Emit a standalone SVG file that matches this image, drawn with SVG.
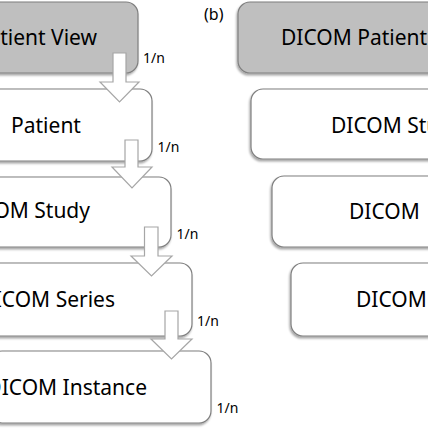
<svg xmlns="http://www.w3.org/2000/svg" width="428" height="428" viewBox="0 0 428 428">
<defs>
<filter id="sh" x="-10%" y="-10%" width="120%" height="130%">
<feDropShadow dx="-1" dy="2" stdDeviation="1" flood-color="#000" flood-opacity="0.35"/>
</filter>
</defs>
<style>
.box{fill:#fff;stroke:#7f7f7f;stroke-width:1.2;filter:url(#sh)}
.gray{fill:#bfbfbf}
.t{font-family:"Noto Sans","Open Sans",sans-serif;font-size:21px;fill:#000}
.lab{font-family:"Noto Sans","Open Sans",sans-serif;font-size:14px;fill:#000}
.arr{fill:#fff;stroke:#a6a6a6;stroke-width:1.2;stroke-linejoin:miter}
</style>
<rect width="428" height="428" fill="#fff"/>
<g id="a-patient-view">
<rect class="box gray" x="-80" y="2" width="218" height="71" rx="12"/>
<text class="t" x="97" y="45" text-anchor="end">Patient View</text>
</g>
<g id="a-patient">
<rect class="box" x="-70" y="89" width="222" height="72" rx="12"/>
<text class="t" x="46" y="133" text-anchor="middle">Patient</text>
</g>
<g id="a-study">
<rect class="box" x="-50" y="177" width="221" height="70" rx="12"/>
<text class="t" x="90" y="218" text-anchor="end">DICOM Study</text>
</g>
<g id="a-series">
<rect class="box" x="-30" y="263" width="222" height="73" rx="12"/>
<text class="t" x="115" y="307" text-anchor="end">DICOM Series</text>
</g>
<g id="a-instance">
<rect class="box" x="-10" y="351" width="221" height="72" rx="12"/>
<text class="t" x="147" y="395" text-anchor="end">DICOM Instance</text>
</g>
<g id="connectors">
<path class="arr" d="M113,53 H126 V82 H139 L119.5,102 L100,82 H113 Z"/>
<path class="arr" d="M125,140 H138 V167 H152 L132,188 L112,167 H125 Z"/>
<path class="arr" d="M144.5,227 H158 V256 H172 L151.5,276 L131,256 H144.5 Z"/>
<path class="arr" d="M165,311 H178 V339 H192 L171.5,359 L151,339 H165 Z"/>
<text class="lab" x="154" y="63" text-anchor="middle">1/n</text>
<text class="lab" x="168.5" y="152" text-anchor="middle">1/n</text>
<text class="lab" x="187.5" y="239" text-anchor="middle">1/n</text>
<text class="lab" x="208" y="326" text-anchor="middle">1/n</text>
<text class="lab" x="227.5" y="413" text-anchor="middle">1/n</text>
</g>
<text class="lab" x="204" y="20" style="font-size:16px">(b)</text>
<g id="b-patient">
<rect class="box gray" x="238" y="2" width="230" height="71" rx="12"/>
<text class="t" x="281" y="45">DICOM Patient</text>
</g>
<g id="b-study">
<rect class="box" x="251" y="89" width="230" height="70" rx="12"/>
<text class="t" x="331" y="133">DICOM Study</text>
</g>
<g id="b-series">
<rect class="box" x="272" y="176" width="230" height="71" rx="12"/>
<text class="t" x="349" y="219" word-spacing="8">DICOM Series</text>
</g>
<g id="b-instance">
<rect class="box" x="291" y="263" width="230" height="73" rx="12"/>
<text class="t" x="356" y="307">DICOM Instance</text>
</g>
</svg>
